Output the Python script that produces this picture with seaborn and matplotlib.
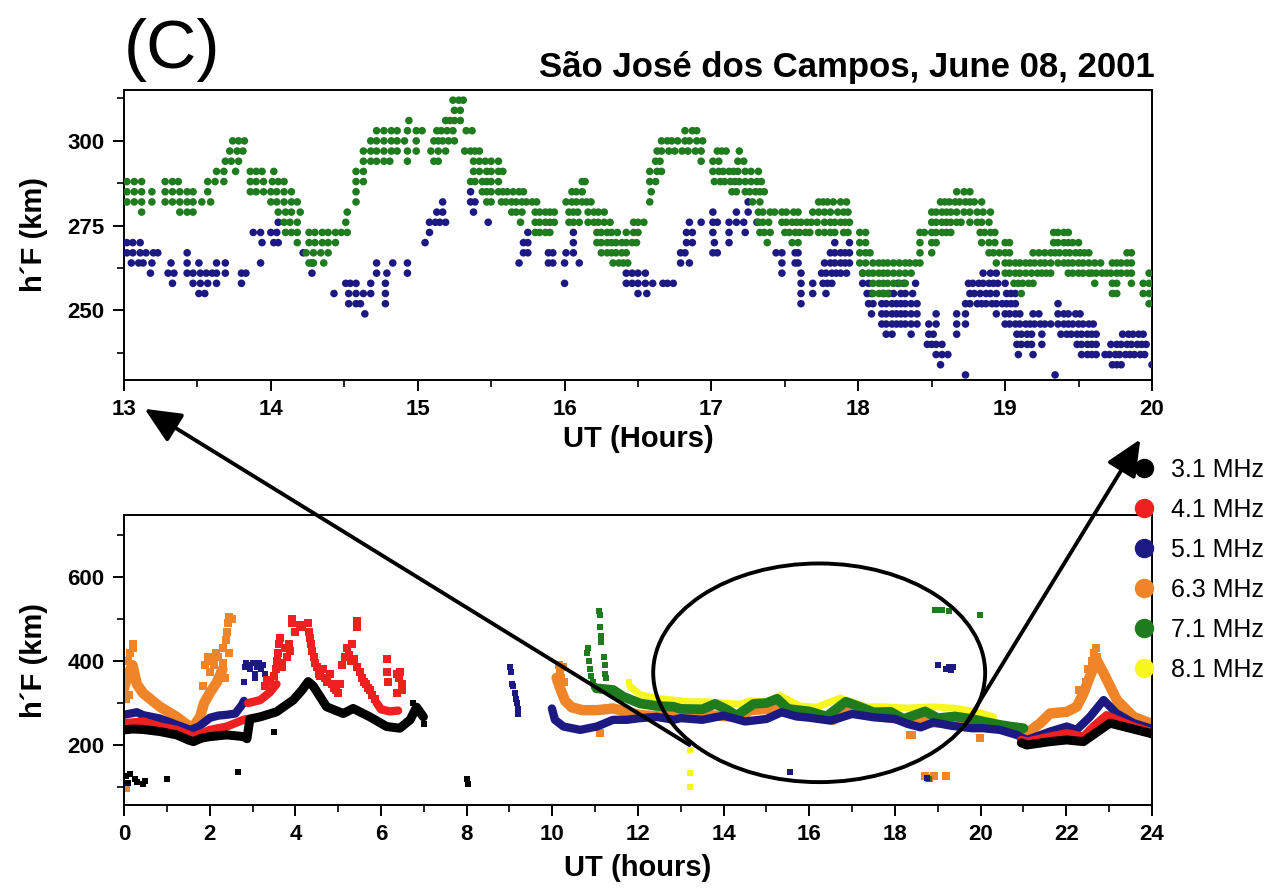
import matplotlib
matplotlib.use("Agg")
import matplotlib.pyplot as plt
import numpy as np
import pandas as pd
import seaborn as sns
from matplotlib.patches import Ellipse, ConnectionPatch
from matplotlib.lines import Line2D
from matplotlib.ticker import MultipleLocator

# ---------------------------------------------------------------- data
FREQS = ["3.1 MHz", "4.1 MHz", "5.1 MHz", "6.3 MHz", "7.1 MHz", "8.1 MHz"]
COLORS = ["#000000", "#ee2020", "#1c1a82", "#f08428", "#1e7b1e", "#f7f71e"]

# ---- top panel: 7.1 MHz (green) h'F samples, grouped by height level (km) -> UT hours
green_levels = [312, 309, 306, 303, 300, 297, 294, 291, 288, 285, 282, 279, 276, 273,
                270, 267, 264, 261, 258, 255, 252]
green_times = [
    [15.24, 15.28, 15.31],
    [15.25, 15.29],
    [14.94, 15.19, 15.22, 15.25, 15.29],
    [14.72, 14.77, 14.82, 14.86, 14.93, 14.99, 15.03, 15.13, 15.16, 15.20, 15.24, 15.33, 15.37,
     16.82, 16.87, 16.90],
    [13.74, 13.78, 13.82, 14.68, 14.72, 14.77, 14.82, 14.86, 14.91, 14.99, 15.11, 15.14, 15.17,
     15.21, 15.25, 16.66, 16.70, 16.73, 16.77, 16.82, 16.85, 16.90, 16.94],
    [13.72, 13.77, 13.81, 14.63, 14.68, 14.72, 14.77, 14.82, 14.86, 14.93, 14.99, 15.09, 15.14,
     15.19, 15.32, 15.36, 15.39, 15.42, 16.63, 16.66, 16.71, 16.75, 16.80, 16.84, 16.89, 16.93,
     17.04, 17.07, 17.10, 17.19],
    [13.69, 13.73, 13.78, 14.63, 14.68, 14.72, 14.77, 14.81, 14.93, 15.11, 15.14, 15.38, 15.42,
     15.46, 15.50, 15.55, 16.62, 16.65, 16.93, 17.01, 17.05, 17.18, 17.22],
    [13.63, 13.68, 13.76, 13.86, 13.90, 13.94, 14.02, 14.58, 14.63, 15.38, 15.42, 15.47, 15.50,
     15.55, 15.58, 16.58, 16.63, 16.66, 17.01, 17.05, 17.08, 17.12, 17.15, 17.18, 17.23, 17.27,
     17.32],
    [13.02, 13.07, 13.12, 13.28, 13.33, 13.37, 13.57, 13.62, 13.68, 13.86, 13.90, 13.95, 14.01,
     14.05, 14.09, 14.58, 14.63, 15.36, 15.39, 15.44, 15.47, 15.50, 15.55, 16.12, 16.14, 16.58,
     16.62, 17.02, 17.06, 17.09, 17.13, 17.16, 17.19, 17.23, 17.27, 17.31, 17.34],
    [13.02, 13.07, 13.12, 13.19, 13.28, 13.33, 13.38, 13.43, 13.47, 13.57, 13.86, 13.90, 13.95,
     14.00, 14.04, 14.09, 14.14, 14.58, 15.44, 15.47, 15.50, 15.55, 15.58, 15.61, 15.65, 15.69,
     15.72, 16.05, 16.08, 16.12, 16.59, 17.14, 17.17, 17.23, 17.26, 17.30, 17.33, 17.36, 18.67,
     18.72, 18.76],
    [13.02, 13.07, 13.12, 13.19, 13.28, 13.33, 13.38, 13.43, 13.47, 13.53, 13.59, 14.00, 14.04,
     14.09, 14.14, 14.18, 14.58, 15.47, 15.50, 15.57, 15.60, 15.64, 15.67, 15.71, 15.74, 15.78,
     15.81, 16.01, 16.05, 16.08, 16.12, 16.15, 16.18, 16.58, 17.28, 17.33, 17.73, 17.76, 17.79,
     17.83, 17.88, 17.92, 18.56, 18.59, 18.62, 18.66, 18.69, 18.73, 18.76, 18.79, 18.84],
    [13.12, 13.38, 13.43, 13.47, 14.05, 14.10, 14.14, 14.20, 14.52, 15.64, 15.67, 15.71, 15.80,
     15.83, 15.87, 15.90, 15.93, 16.03, 16.06, 16.09, 16.16, 16.20, 16.23, 16.27, 17.32, 17.35,
     17.40, 17.43, 17.48, 17.51, 17.56, 17.59, 17.69, 17.73, 17.77, 17.81, 17.86, 17.90, 17.93,
     18.50, 18.53, 18.57, 18.60, 18.63, 18.67, 18.72, 18.76, 18.81, 18.85, 18.90],
    [14.09, 14.13, 14.18, 14.51, 15.70, 15.80, 15.83, 15.87, 15.90, 15.93, 16.03, 16.06, 16.10,
     16.16, 16.20, 16.23, 16.27, 16.31, 16.47, 16.50, 16.54, 17.32, 17.35, 17.39, 17.48, 17.51,
     17.55, 17.58, 17.61, 17.65, 17.68, 17.72, 17.77, 17.81, 17.84, 17.88, 17.91, 17.94, 18.50,
     18.53, 18.57, 18.60, 18.63, 18.67, 18.70, 18.76, 18.81, 18.84, 18.89],
    [14.10, 14.14, 14.18, 14.26, 14.30, 14.35, 14.39, 14.44, 14.48, 14.52, 15.80, 15.83, 15.87,
     15.90, 16.22, 16.25, 16.29, 16.32, 16.36, 16.42, 16.47, 16.50, 17.33, 17.36, 17.40, 17.50,
     17.53, 17.57, 17.60, 17.64, 17.67, 17.73, 17.77, 17.81, 17.84, 17.90, 17.93, 18.01, 18.05,
     18.42, 18.45, 18.50, 18.53, 18.57, 18.60, 18.63, 18.83, 18.86, 18.90, 18.93, 19.33, 19.36,
     19.40, 19.43],
    [14.18, 14.26, 14.30, 14.35, 14.39, 14.44, 16.22, 16.25, 16.29, 16.32, 16.35, 16.39, 16.42,
     16.46, 16.49, 17.38, 17.55, 17.59, 18.01, 18.05, 18.42, 18.50, 18.53, 18.84, 18.89, 18.93,
     19.00, 19.03, 19.33, 19.36, 19.40, 19.43, 19.46, 19.50],
    [14.24, 14.29, 14.34, 14.39, 16.25, 16.29, 16.32, 16.35, 16.39, 16.42, 18.01, 18.05, 18.08,
     18.42, 18.50, 18.89, 18.92, 18.96, 19.00, 19.03, 19.19, 19.23, 19.27, 19.31, 19.34, 19.37,
     19.41, 19.44, 19.48, 19.51, 19.54, 19.57, 19.83, 19.86],
    [14.26, 14.29, 14.36, 16.33, 16.37, 16.40, 16.43, 18.01, 18.05, 18.10, 18.14, 18.17, 18.20,
     18.24, 18.28, 18.32, 18.35, 18.39, 18.42, 18.94, 19.00, 19.03, 19.07, 19.10, 19.14, 19.17,
     19.20, 19.24, 19.27, 19.31, 19.36, 19.40, 19.43, 19.46, 19.50, 19.53, 19.57, 19.61, 19.65,
     19.73, 19.76, 19.79, 19.83, 19.86],
    [18.03, 18.07, 18.10, 18.14, 18.17, 18.20, 18.24, 18.28, 18.32, 18.36, 19.00, 19.03, 19.07,
     19.10, 19.14, 19.18, 19.22, 19.25, 19.28, 19.31, 19.43, 19.46, 19.50, 19.53, 19.57, 19.59,
     19.62, 19.66, 19.69, 19.72, 19.76, 19.79, 19.83, 19.86, 19.98],
    [18.10, 18.14, 18.17, 18.20, 18.24, 18.28, 18.32, 19.06, 19.09, 19.12, 19.16, 19.19, 19.61,
     19.73, 19.76, 19.86, 19.94, 19.98, 20.00],
    [18.10, 18.14, 18.17, 18.20, 19.11, 19.73, 19.76, 19.94, 19.98, 20.00],
    [19.98],
]

# ---- top panel: 5.1 MHz (blue)
blue_levels = [285, 282, 279, 276, 273, 270, 267, 264, 261, 258, 255, 252, 249, 246, 243,
               240, 237, 234, 231]
blue_times = [
    [15.36],
    [15.17, 15.36, 15.39, 17.25],
    [15.13, 15.17, 15.38, 17.01, 17.17, 17.25],
    [14.05, 15.08, 15.12, 15.15, 15.19, 15.48, 16.85, 16.93, 17.01, 17.04, 17.12, 17.17, 17.22,
     17.31],
    [13.88, 13.93, 14.00, 14.04, 15.08, 15.75, 16.06, 16.83, 16.87, 17.01, 17.12, 17.23],
    [13.02, 13.06, 13.11, 13.94, 14.02, 14.05, 15.05, 15.72, 15.75, 16.06, 16.83, 16.87, 17.02,
     17.12, 17.84, 17.94],
    [13.02, 13.06, 13.11, 13.15, 13.20, 13.23, 13.43, 14.22, 15.72, 15.75, 15.89, 15.92, 16.01,
     16.06, 16.79, 16.82, 17.01, 17.04, 17.44, 17.48, 17.57, 17.59, 17.81, 17.84, 17.88, 17.91,
     17.94],
    [13.05, 13.10, 13.13, 13.19, 13.32, 13.43, 13.51, 13.63, 13.69, 13.93, 14.28, 14.72, 14.83,
     14.93, 15.69, 15.89, 15.92, 16.00, 16.10, 16.79, 16.85, 17.48, 17.57, 17.59, 17.77, 17.81,
     17.84, 17.88, 17.91, 17.94],
    [13.18, 13.30, 13.34, 13.43, 13.47, 13.52, 13.56, 13.60, 13.63, 13.69, 13.80, 13.83, 14.28,
     14.72, 14.79, 14.93, 16.42, 16.46, 16.50, 16.55, 17.48, 17.61, 17.75, 17.78, 17.82, 17.85,
     17.88, 17.92, 18.03, 18.85, 18.90, 18.94],
    [13.33, 13.47, 13.52, 13.57, 13.63, 13.80, 14.51, 14.54, 14.58, 14.68, 14.78, 16.00, 16.42,
     16.46, 16.50, 16.55, 16.60, 16.67, 16.70, 16.74, 17.61, 17.69, 17.76, 17.79, 17.82, 18.03,
     18.07, 18.27, 18.31, 18.39, 18.75, 18.78, 18.82, 18.85, 18.89, 18.92, 18.95, 19.00],
    [13.51, 13.55, 14.43, 14.53, 14.58, 14.63, 14.68, 14.78, 16.50, 16.56, 17.61, 17.69, 17.78,
     18.06, 18.09, 18.17, 18.21, 18.24, 18.29, 18.32, 18.37, 18.76, 18.79, 18.83, 18.87, 18.90,
     18.94, 19.01, 19.04, 19.07],
    [14.53, 14.58, 14.61, 14.78, 17.61, 18.07, 18.10, 18.16, 18.19, 18.23, 18.26, 18.29, 18.32,
     18.36, 18.40, 18.73, 18.76, 18.81, 18.84, 18.87, 18.91, 18.94, 18.98, 19.01, 19.04, 19.07,
     19.36],
    [14.64, 18.09, 18.16, 18.19, 18.23, 18.26, 18.29, 18.32, 18.36, 18.40, 18.53, 18.67, 18.73,
     18.94, 19.00, 19.03, 19.07, 19.10, 19.19, 19.23, 19.36, 19.40, 19.43, 19.48, 19.51],
    [18.16, 18.19, 18.23, 18.26, 18.29, 18.32, 18.36, 18.40, 18.48, 18.53, 18.67, 18.73, 19.00,
     19.03, 19.07, 19.10, 19.14, 19.17, 19.20, 19.24, 19.27, 19.31, 19.36, 19.40, 19.43, 19.46,
     19.50, 19.53, 19.57, 19.60],
    [18.19, 18.23, 18.36, 18.48, 18.51, 18.67, 19.08, 19.11, 19.15, 19.18, 19.25, 19.38, 19.42,
     19.45, 19.49, 19.52, 19.56, 19.59, 19.62, 19.80, 19.84, 19.87, 19.91, 19.94],
    [18.47, 18.50, 18.53, 18.57, 19.08, 19.11, 19.15, 19.18, 19.25, 19.49, 19.52, 19.56, 19.59,
     19.62, 19.72, 19.76, 19.79, 19.83, 19.86, 19.90, 19.93, 19.96],
    [18.53, 18.57, 18.61, 19.09, 19.19, 19.52, 19.56, 19.59, 19.62, 19.68, 19.71, 19.75, 19.78,
     19.82, 19.85, 19.88, 19.92, 19.95],
    [18.56, 19.73, 19.76, 19.79, 20.00],
    [18.73, 19.34],
]

# ---- bottom panel: dense traces, as (UT hours, h'F km) segments per frequency
band_31 = [
    ([0.0, 0.2, 0.45, 0.84, 1.23, 1.5, 1.62, 1.8, 2.01, 2.4, 2.79, 2.87, 2.94, 3.18, 3.56, 3.95,
      4.15, 4.3, 4.42, 4.73, 5.12, 5.35, 5.74, 6.13, 6.44, 6.68, 6.83, 6.99],
     [236, 238, 237, 232, 224, 212, 208, 216, 220, 224, 220, 215, 262, 267, 279, 307,
      330, 351, 340, 291, 275, 287, 267, 244, 240, 260, 290, 267]),
    ([20.95, 21.08, 21.62, 22.01, 22.4, 22.79, 23.02, 23.33, 23.95, 24.0],
     [205, 200, 208, 212, 208, 236, 252, 244, 228, 226]),
]
dots_31 = [(0.05, 125), (0.1, 110), (0.15, 130), (0.25, 120), (0.3, 112), (0.45, 108),
           (0.5, 115), (1.0, 120), (2.67, 135), (3.5, 232), (6.75, 300), (6.8, 290),
           (6.9, 280), (7.0, 250), (8.0, 118), (8.02, 108)]

band_41 = [
    ([0.0, 0.45, 0.84, 1.23, 1.62, 2.01, 2.4, 2.79, 2.87],
     [252, 256, 244, 236, 220, 236, 244, 260, 262]),
    ([2.9, 3.18, 3.4, 3.56], [300, 307, 325, 345]),
    ([5.9, 6.0, 6.2, 6.4], [300, 285, 280, 282]),
    ([20.95, 21.08, 21.62, 22.01, 22.4, 22.63, 22.94, 23.18, 23.57, 23.95, 24.0],
     [212, 208, 220, 228, 220, 244, 271, 260, 244, 232, 230]),
]
dots_41 = [(3.30, 340), (3.35, 355), (3.42, 350), (3.50, 365), (3.56, 380), (3.58, 400),
           (3.60, 420), (3.62, 440), (3.65, 455), (3.68, 395), (3.70, 385), (3.75, 430),
           (3.80, 410), (3.85, 440), (3.88, 425), (3.92, 490), (3.93, 500), (4.00, 470),
           (4.10, 485), (4.15, 480), (4.30, 490), (4.33, 470), (4.35, 455), (4.37, 440),
           (4.40, 425), (4.43, 410), (4.46, 395), (4.50, 385), (4.55, 370), (4.58, 365),
           (4.65, 380), (4.70, 360), (4.75, 350), (4.80, 370), (4.85, 345), (4.90, 335),
           (4.95, 330), (5.00, 325), (5.05, 345), (5.10, 390), (5.15, 410), (5.20, 430),
           (5.25, 415), (5.30, 400), (5.33, 440), (5.38, 405), (5.43, 495), (5.44, 480),
           (5.45, 385), (5.50, 375), (5.55, 360), (5.60, 350), (5.65, 345), (5.70, 335),
           (5.75, 330), (5.80, 320), (5.85, 310), (6.13, 405), (6.15, 375), (6.17, 350),
           (6.37, 370), (6.38, 325), (6.42, 360), (6.45, 375), (6.48, 345), (6.50, 330)]

band_51 = [
    ([0.0, 0.3, 0.45, 0.84, 1.23, 1.55, 1.75, 2.01, 2.2, 2.4, 2.6, 2.75, 2.8],
     [272, 278, 271, 263, 248, 236, 244, 265, 270, 272, 275, 295, 305]),
    ([9.99, 10.06, 10.26, 10.65, 11.04, 11.42, 11.74, 12.05, 12.44, 12.83, 13.0, 13.5, 14.0,
      14.5, 15.0, 15.35, 15.7, 16.0, 16.5, 17.0, 17.5, 18.0, 18.3, 18.6, 18.9, 19.3, 19.8,
      20.06, 20.45, 20.84, 21.08, 21.62, 22.01, 22.24, 22.55, 22.87, 23.18, 23.57, 23.95, 24.0],
     [287, 260, 244, 236, 244, 260, 260, 264, 267, 260, 264, 260, 270, 256, 262, 278, 268,
      265, 258, 274, 266, 262, 250, 242, 254, 246, 240, 240, 236, 224, 212, 232, 244, 236,
      267, 307, 275, 252, 240, 238]),
]
dots_51 = [(2.80, 350), (2.82, 385), (2.85, 395), (2.90, 390), (2.95, 380), (3.00, 395),
           (3.05, 370), (3.10, 385), (3.15, 395), (3.20, 380), (3.25, 390), (3.30, 370),
           (3.05, 360), (9.02, 385), (9.04, 375), (9.06, 345), (9.08, 340), (9.12, 325),
           (9.15, 310), (9.18, 300), (9.20, 285), (9.21, 275), (19.01, 390), (19.20, 380),
           (19.25, 385), (19.30, 378), (19.35, 386), (15.55, 135), (18.74, 122)]

band_63 = [
    ([0.0, 0.1, 0.2, 0.3, 0.45, 0.84, 1.23, 1.45, 1.6, 1.78, 1.87, 2.01, 2.17, 2.3],
     [335, 370, 390, 345, 323, 291, 267, 250, 240, 268, 300, 325, 350, 380]),
    ([10.1, 10.2, 10.3, 10.45, 10.7, 11.04, 11.42, 11.74, 12.05, 12.44, 12.83, 13.6, 14.38,
      14.62, 15.0, 15.4, 15.78, 16.17, 16.56, 16.95, 17.34, 17.73, 18.12, 18.51, 19.28, 20.06,
      20.84, 21.08, 21.39, 21.62, 22.01, 22.24, 22.4, 22.55, 22.71, 22.87, 23.18, 23.57,
      23.95, 24.0],
     [360, 330, 305, 290, 283, 283, 287, 279, 271, 269, 271, 271, 267, 283, 286, 296, 275,
      272, 260, 285, 278, 267, 262, 256, 252, 248, 236, 228, 252, 275, 279, 291, 323, 363,
      402, 371, 307, 267, 252, 250]),
]
dots_63 = [(0.10, 400), (0.15, 420), (0.20, 440), (0.22, 430), (0.05, 310), (0.12, 320),
           (1.85, 340), (1.90, 390), (1.95, 410), (2.00, 375), (2.05, 400), (2.10, 390),
           (2.15, 420), (2.20, 410), (2.25, 370), (2.30, 395), (2.32, 430), (2.38, 450),
           (2.40, 470), (2.42, 490), (2.45, 505), (2.52, 500), (2.35, 360), (2.45, 420),
           (0.05, 98), (10.15, 390), (10.18, 375), (10.20, 360), (10.25, 385), (10.28, 350),
           (11.11, 228), (22.30, 330), (22.45, 350), (22.50, 380), (22.60, 400), (22.65, 420),
           (22.70, 430), (22.72, 410), (18.35, 224), (18.40, 224), (19.99, 216), (18.70, 125),
           (18.80, 122), (18.90, 127), (19.20, 125)]

band_71 = [
    ([11.03, 11.42, 11.66, 12.05, 12.44, 12.83, 13.0, 13.5, 13.8, 14.1, 14.3, 14.7, 15.0, 15.25,
      15.5, 16.0, 16.4, 16.85, 17.2, 17.5, 17.9, 18.2, 18.7, 19.0, 19.4, 19.8, 20.06, 20.45,
      20.69, 21.0],
     [335, 331, 315, 299, 293, 291, 286, 285, 298, 283, 270, 298, 300, 310, 286, 280, 268,
      303, 290, 278, 279, 262, 280, 264, 268, 262, 256, 248, 244, 240]),
]
dots_71 = [(10.82, 420), (10.84, 430), (10.85, 400), (10.88, 380), (10.90, 365), (10.95, 350),
           (10.98, 340), (11.10, 520), (11.11, 510), (11.12, 480), (11.13, 460), (11.14, 445),
           (11.20, 410), (11.22, 390), (11.24, 370), (11.25, 360), (18.94, 521), (19.00, 521),
           (19.10, 521), (19.25, 520), (19.99, 510), (18.80, 120)]

band_81 = [
    ([11.81, 12.05, 12.44, 12.83, 13.2, 13.6, 14.0, 14.38, 14.62, 15.0, 15.32, 15.78, 16.17,
      16.72, 17.34, 17.73, 18.3, 18.9, 19.44, 19.91, 20.3],
     [340, 320, 311, 307, 303, 303, 300, 297, 305, 303, 318, 293, 290, 312, 291, 291, 288,
      291, 287, 279, 267]),
]
dots_81 = [(13.21, 188), (13.21, 133), (13.21, 101), (11.80, 350), (11.85, 335)]

BANDS = [band_31, band_41, band_51, band_63, band_71, band_81]
DOTS = [dots_31, dots_41, dots_51, dots_63, dots_71, dots_81]
BAND_LW = [6.5, 6, 6, 7.5, 7, 5]
DOT_S = [22, 30, 22, 26, 22, 22]
DRAW_ORDER = [3, 5, 4, 2, 1, 0]

# ---------------------------------------------------------------- style
sns.set_theme(style="white")
plt.rcParams["font.family"] = ["Liberation Sans", "DejaVu Sans"]
plt.rcParams["axes.linewidth"] = 1.4
for key in ("text.color", "axes.labelcolor", "xtick.color", "ytick.color", "axes.edgecolor"):
    plt.rcParams[key] = "black"

W, H = 1270, 890
fig = plt.figure(figsize=(W / 100, H / 100), dpi=100)
ax_top = fig.add_axes([124 / W, 1 - 380 / H, 1028 / W, 290 / H])
ax_bot = fig.add_axes([124 / W, 1 - 805 / H, 1028 / W, 290 / H])


def rows_frame(levels, times, name):
    t, h = [], []
    for lev, ts in zip(levels, times):
        t.extend(ts)
        h.extend([lev] * len(ts))
    return pd.DataFrame({"UT": t, "hF": h, "freq": name})


top_df = pd.concat([rows_frame(blue_levels, blue_times, "5.1 MHz"),
                    rows_frame(green_levels, green_times, "7.1 MHz")], ignore_index=True)
sns.scatterplot(data=top_df, x="UT", y="hF", hue="freq",
                palette={"5.1 MHz": COLORS[2], "7.1 MHz": COLORS[4]},
                s=30, linewidth=0, legend=False, ax=ax_top, zorder=3)

ax_top.set_xlim(13, 20)
ax_top.set_ylim(229.5, 315)
ax_top.xaxis.set_major_locator(MultipleLocator(1))
ax_top.xaxis.set_minor_locator(MultipleLocator(0.5))
ax_top.yaxis.set_major_locator(MultipleLocator(25))
ax_top.yaxis.set_minor_locator(MultipleLocator(12.5))

# bottom panel
for i in DRAW_ORDER:
    for seg_t, seg_h in BANDS[i]:
        sns.lineplot(x=seg_t, y=seg_h, color=COLORS[i], lw=BAND_LW[i], sort=False,
                     estimator=None, ax=ax_bot, solid_capstyle="round", zorder=2)
    d = pd.DataFrame(DOTS[i], columns=["UT", "hF"])
    sns.scatterplot(data=d, x="UT", y="hF", color=COLORS[i], s=DOT_S[i], marker="s",
                    linewidth=0, ax=ax_bot, zorder=2, legend=False)

ax_bot.set_xlim(0, 24)
ax_bot.set_ylim(57, 748)
ax_bot.xaxis.set_major_locator(MultipleLocator(2))
ax_bot.xaxis.set_minor_locator(MultipleLocator(1))
ax_bot.yaxis.set_major_locator(MultipleLocator(200))
ax_bot.yaxis.set_minor_locator(MultipleLocator(100))

for ax, xl, lp in ((ax_top, "UT (Hours)", 3), (ax_bot, "UT (hours)", 6)):
    for sp in ax.spines.values():
        sp.set_visible(True)
        sp.set_color("black")
        sp.set_linewidth(1.4)
    ax.tick_params(axis="both", which="major", direction="out", length=8, width=1.4,
                   labelsize=16, bottom=True, left=True, top=False, right=False, pad=6,
                   colors="black")
    ax.tick_params(axis="both", which="minor", direction="out", length=5, width=1.2,
                   bottom=True, left=True, top=False, right=False, colors="black")
    for lab in ax.get_xticklabels() + ax.get_yticklabels():
        lab.set_fontweight("bold")
    ax.set_xlabel(xl, fontsize=21, fontweight="bold", labelpad=lp, color="black")
    ax.set_ylabel("h\u00b4F (km)", fontsize=21, fontweight="bold", labelpad=14, color="black")
    ax.grid(False)

# legend
handles = [Line2D([], [], marker="o", linestyle="none", markersize=13,
                  markerfacecolor=c, markeredgecolor=c) for c in COLORS]
fig.legend(handles, FREQS, loc="upper left", bbox_to_anchor=(1131 / W, 1 - 458 / H),
           frameon=False, fontsize=18, handletextpad=0.6, labelspacing=0.64,
           handlelength=1.0, borderaxespad=0, borderpad=0, labelcolor="black")

# titles
fig.text(124 / W, 1 - 50 / H, "(C)", fontsize=50, va="center", ha="left", color="black")
fig.text(1155 / W, 1 - 68 / H, "S\u00e3o Jos\u00e9 dos Campos, June 08, 2001",
         fontsize=25, fontweight="bold", va="center", ha="right", color="black")

# ellipse highlighting 12-20 UT and zoom arrows
ax_bot.add_patch(Ellipse((16.23, 372), 7.75, 521, fill=False, lw=2.8, ec="black",
                         clip_on=False, zorder=5))
for tail, head in (((13.2, 200), (13.14, 221)), ((19.64, 248), (19.92, 212))):
    con = ConnectionPatch(xyA=tail, coordsA=ax_bot.transData, xyB=head,
                          coordsB=ax_top.transData,
                          arrowstyle="-|>,head_length=1.1,head_width=0.5",
                          mutation_scale=20, lw=2.8, color="black", zorder=6)
    fig.add_artist(con)

fig.savefig("out.png", dpi=100)
